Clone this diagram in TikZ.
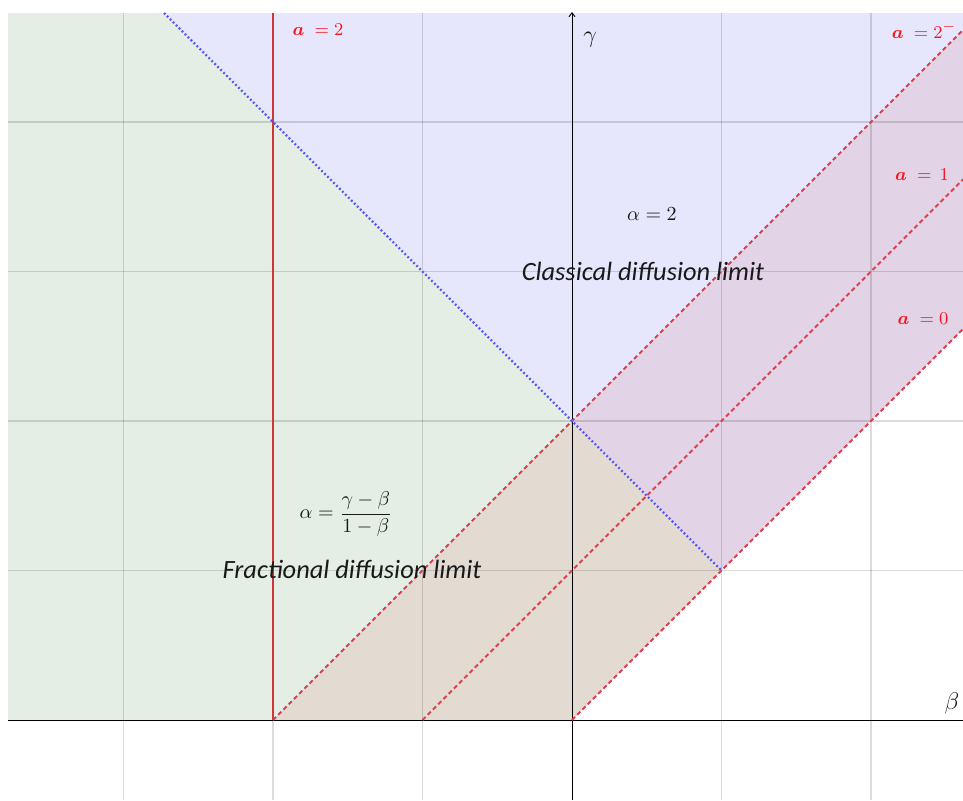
\documentclass[tikz,border=0pt]{standalone}
\usepackage{amsmath}
\usepackage{fontspec}
\setmainfont{Carlito}
\usepackage{bm}
\usetikzlibrary{arrows.meta}
\definecolor{greenfill}{RGB}{228,238,228}
\definecolor{bluefill}{RGB}{230,230,252}
\definecolor{purplefill}{RGB}{227,211,230}
\definecolor{brownfill}{RGB}{227,218,210}
\definecolor{dashred}{RGB}{220,64,80}
\definecolor{solidred}{RGB}{205,55,55}
\definecolor{dotblue}{RGB}{85,85,235}
\definecolor{labelred}{RGB}{250,20,30}
\tikzset{
  gridline/.style={black,opacity=0.14,line width=0.7pt},
  axisline/.style={black,line width=0.45pt},
  bandline/.style={dashred,line width=1pt,dash pattern=on 2.2pt off 1.5pt},
  limitline/.style={solidred,line width=1.1pt},
  critline/.style={dotblue,line width=1.1pt,dash pattern=on 0.9pt off 1.2pt},
  redlabel/.style={labelred,font=\fontsize{9.5}{11}\selectfont,inner sep=0pt},
  mathlabel/.style={black!90,font=\fontsize{10.3}{12}\selectfont,inner sep=0pt},
  regionlabel/.style={black!90,font=\fontsize{13.2}{15}\selectfont\itshape,inner sep=0pt},
  axislabel/.style={black!92,font=\fontsize{13}{15}\selectfont,inner sep=0pt}
}
\begin{document}
\begin{tikzpicture}[x={(0.5pt,0)},y={(0,-0.5pt)}]
\useasboundingbox (0,0) rectangle (963,800);
% key points
\coordinate (O) at (572,720);
\coordinate (Am2) at (273,720);
\coordinate (Am1) at (422.5,720);
\coordinate (P02) at (572,421);
\coordinate (P11) at (721.5,570.5);
\coordinate (Dtop) at (164,13);
\coordinate (TL) at (8,13);
\coordinate (BL) at (8,720);
\coordinate (TR) at (963,13);
\coordinate (R2) at (963,30);
\coordinate (R1) at (963,179.5);
\coordinate (R0) at (963,329);
\coordinate (Vtop) at (273,13);
% regions
\fill[greenfill] (TL) -- (Dtop) -- (P02) -- (Am2) -- (BL) -- cycle;
\fill[bluefill] (Dtop) -- (TR) -- (R2) -- (P02) -- cycle;
\fill[purplefill] (P02) -- (P11) -- (R0) -- (R2) -- cycle;
\fill[brownfill] (Am2) -- (O) -- (P11) -- (P02) -- cycle;
% grid
\foreach \gx in {123.5,273,422.5,721.5,871}
  \draw[gridline] (\gx,13) -- (\gx,800);
\foreach \gy in {122,271.5,421,570.5}
  \draw[gridline] (8,\gy) -- (963,\gy);
% axes
\coordinate (Xl) at (8,720);
\coordinate (Xr) at (963,720);
\coordinate (Yb) at (572,800);
\coordinate (Yt) at (572,12);
\draw[axisline] (Xl) -- (Xr);
\draw[axisline,-{Straight Barb[length=2pt,width=3pt]}] (Yb) -- (Yt);
% lines
\draw[limitline] (Am2) -- (Vtop);
\draw[bandline] (Am2) -- (R2);
\draw[bandline] (Am1) -- (R1);
\draw[bandline] (O) -- (R0);
\draw[critline] (Dtop) -- (P11);
% labels
\node[redlabel] (la2) at (318,30) {$\bm{a}\;=2$};
\node[redlabel] (la2m) at (924,30) {$\bm{a}\;=2^{-}$};
\node[redlabel] (la1) at (922,175) {$\bm{a}\;=\,1$};
\node[redlabel] (la0) at (923,319) {$\bm{a}\;=0$};
\node[axislabel] (gam) at (590,40) {$\gamma$};
\node[axislabel] (bet) at (952,703) {$\beta$};
\node[mathlabel] (alpha2) at (652,214) {$\alpha=2$};
\node[regionlabel] (classical) at (643,271) {Classical diffusion limit};
\node[mathlabel] (alphafrac) at (346,514) {$\alpha=\dfrac{\gamma-\beta}{1-\beta}$};
\node[regionlabel] (fractional) at (352,569) {Fractional diffusion limit};
\end{tikzpicture}
\end{document}
